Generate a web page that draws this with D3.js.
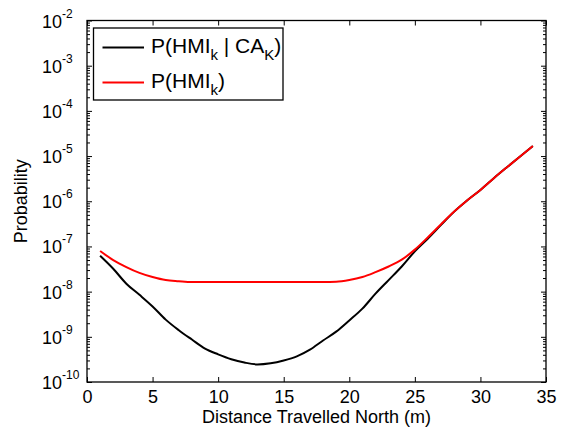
<!DOCTYPE html>
<html>
<head>
<meta charset="utf-8">
<script src="https://cdn.jsdelivr.net/npm/d3@7"></script>
<style>
  body { margin: 0; background: #fff; }
  svg text { font-family: "Liberation Sans", Arial, sans-serif; }
</style>
</head>
<body>
<script>
// distance north (m)
var distance = [1, 2, 3, 4, 5, 6, 7, 8, 9, 10, 11, 12, 13, 14, 15, 16, 17,
                18, 19, 20, 21, 22, 23, 24, 25, 26, 27, 28, 29, 30, 31, 32, 33, 34];
// P(HMI_k | CA_K)
var pCond = [6.2e-8, 3.2e-8, 1.5e-8, 8.5e-9, 4.7e-9, 2.4e-9, 1.4e-9, 8.7e-10, 5.5e-10, 4.1e-10,
             3.2e-10, 2.7e-10, 2.45e-10, 2.6e-10, 3.0e-10, 3.7e-10, 5.2e-10, 8.3e-10, 1.3e-9, 2.3e-9,
             4.2e-9, 9.0e-9, 1.8e-8, 3.6e-8, 7.8e-8, 1.5e-7, 3.0e-7, 5.9e-7, 1.05e-6, 1.78e-6,
             3.2e-6, 5.6e-6, 9.7e-6, 1.66e-5];
// P(HMI_k)
var pHmi = [7.9e-8, 5.0e-8, 3.5e-8, 2.6e-8, 2.1e-8, 1.8e-8, 1.7e-8, 1.63e-8, 1.63e-8, 1.63e-8,
            1.63e-8, 1.63e-8, 1.63e-8, 1.63e-8, 1.63e-8, 1.63e-8, 1.63e-8, 1.63e-8, 1.65e-8, 1.8e-8,
            2.1e-8, 2.7e-8, 3.6e-8, 5.1e-8, 8.5e-8, 1.6e-7, 3.1e-7, 5.9e-7, 1.05e-6, 1.78e-6,
            3.2e-6, 5.6e-6, 9.7e-6, 1.66e-5];
var xTicks = [0, 5, 10, 15, 20, 25, 30, 35];
var yExponents = [-10, -9, -8, -7, -6, -5, -4, -3, -2];

var width = 563, height = 435;
var mLeft = 87, mRight = 546, mTop = 20.5, mBottom = 382;

var svg = d3.select("body").append("svg")
    .attr("width", width)
    .attr("height", height);

var x = d3.scaleLinear().domain([0, 35]).range([mLeft, mRight]);
var y = d3.scaleLog().domain([1e-10, 1e-2]).range([mBottom, mTop]);

var majors = yExponents.map(function(e) { return Math.pow(10, e); });
var minors = [];
yExponents.slice(0, -1).forEach(function(e) {
  for (var m = 2; m <= 9; m++) minors.push(m * Math.pow(10, e));
});

function styleAxis(g) {
  g.select(".domain").remove();
  g.selectAll("line").attr("stroke", "#000").attr("stroke-width", 1);
}

// x ticks bottom and top
svg.append("g").attr("transform", "translate(0," + mBottom + ")")
  .call(d3.axisBottom(x).tickValues(xTicks).tickSize(-5).tickPadding(8).tickFormat(d3.format("d")))
  .call(styleAxis)
  .selectAll("text").attr("font-size", 18).attr("fill", "#000")
  .attr("font-family", "Liberation Sans, Arial, sans-serif");
svg.append("g").attr("transform", "translate(0," + mTop + ")")
  .call(d3.axisTop(x).tickValues(xTicks).tickSize(-5).tickFormat(""))
  .call(styleAxis);

// y ticks left and right (majors + minors)
svg.append("g").attr("transform", "translate(" + mLeft + ",0)")
  .call(d3.axisLeft(y).tickValues(majors).tickSize(-5).tickFormat(""))
  .call(styleAxis);
svg.append("g").attr("transform", "translate(" + mLeft + ",0)")
  .call(d3.axisLeft(y).tickValues(minors).tickSize(-3).tickFormat(""))
  .call(styleAxis);
svg.append("g").attr("transform", "translate(" + mRight + ",0)")
  .call(d3.axisRight(y).tickValues(majors).tickSize(-5).tickFormat(""))
  .call(styleAxis);
svg.append("g").attr("transform", "translate(" + mRight + ",0)")
  .call(d3.axisRight(y).tickValues(minors).tickSize(-3).tickFormat(""))
  .call(styleAxis);

// y tick labels 10^e
var yl = svg.append("g").selectAll("text")
  .data(yExponents).enter().append("text")
  .attr("x", 42)
  .attr("y", function(d) { return y(Math.pow(10, d)) + 7; })
  .attr("font-size", 18)
  .attr("fill", "#000");
yl.append("tspan").text("10");
yl.append("tspan").attr("font-size", 12).attr("dy", -10).text(function(d) { return "-" + Math.abs(d); });

// frame
svg.append("rect")
  .attr("x", mLeft).attr("y", mTop)
  .attr("width", mRight - mLeft).attr("height", mBottom - mTop)
  .attr("fill", "none").attr("stroke", "#000").attr("stroke-width", 1.3);

// curves
var line = function(vals) {
  return d3.line()
    .x(function(d, i) { return x(distance[i]); })
    .y(function(d) { return y(d); })
    .curve(d3.curveMonotoneX)(vals);
};
svg.append("path").attr("d", line(pCond))
  .attr("fill", "none").attr("stroke", "#000").attr("stroke-width", 2);
svg.append("path").attr("d", line(pHmi))
  .attr("fill", "none").attr("stroke", "#ff0000").attr("stroke-width", 2);

// axis titles
svg.append("text")
  .attr("x", (mLeft + mRight) / 2).attr("y", 423)
  .attr("text-anchor", "middle").attr("font-size", 18)
  .text("Distance Travelled North (m)");
svg.append("text")
  .attr("transform", "translate(27," + ((mTop + mBottom) / 2) + ") rotate(-90)")
  .attr("text-anchor", "middle").attr("font-size", 18)
  .text("Probability");

// legend
var lg = svg.append("g");
lg.append("rect").attr("x", 93.5).attr("y", 28).attr("width", 189.5).attr("height", 72)
  .attr("fill", "#fff").attr("stroke", "#000").attr("stroke-width", 1.3);
var items = [
  { color: "#000", y: 47.5, parts: [["P(HMI", 0], ["k", 1], [" | CA", 0], ["K", 1], [")", 0]] },
  { color: "#ff0000", y: 82.5, parts: [["P(HMI", 0], ["k", 1], [")", 0]] }
];
items.forEach(function(it) {
  lg.append("line").attr("x1", 102.5).attr("x2", 144).attr("y1", it.y).attr("y2", it.y)
    .attr("stroke", it.color).attr("stroke-width", 2);
  var t = lg.append("text").attr("x", 151).attr("y", it.y + 5.5).attr("font-size", 21);
  var sub = false;
  it.parts.forEach(function(p) {
    var ts = t.append("tspan").text(p[0]);
    if (p[1] && !sub) { ts.attr("font-size", 15).attr("dy", 7); sub = true; }
    else if (!p[1] && sub) { ts.attr("dy", -7); sub = false; }
  });
});
</script>
</body>
</html>
